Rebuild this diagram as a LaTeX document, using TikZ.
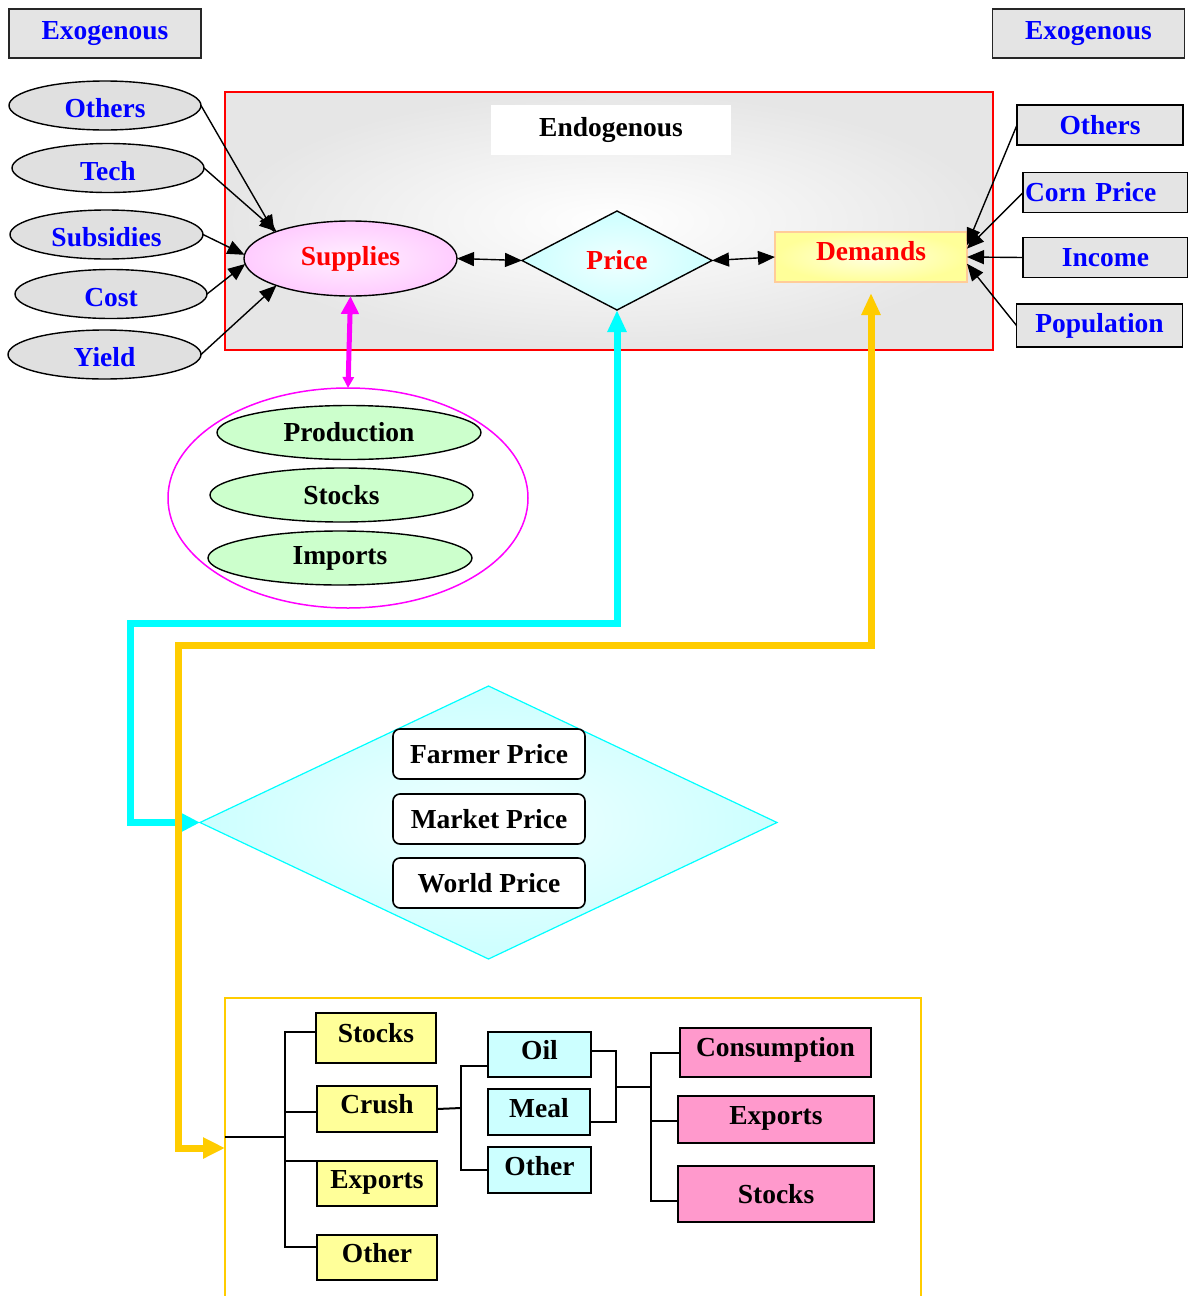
\documentclass[tikz,border=0pt]{standalone}
\usepackage{fontspec}
\setmainfont{Liberation Serif}
\usetikzlibrary{shapes.geometric,arrows.meta}
\definecolor{exogray}{HTML}{E4E4E4}
\definecolor{ellgray}{HTML}{E0E0E0}
\definecolor{endgray}{HTML}{E6E6E6}
\definecolor{suppink}{HTML}{FFCCFF}
\definecolor{suppinkin}{HTML}{FFF0FF}
\definecolor{lcyan}{HTML}{CCFFFF}
\definecolor{lcyanin}{HTML}{F0FFFF}
\definecolor{lyellow}{HTML}{FFFF99}
\definecolor{lyellowin}{HTML}{FFFFE0}
\definecolor{peach}{HTML}{FFCC99}
\definecolor{lgreen}{HTML}{CCFFCC}
\definecolor{lpink}{HTML}{FF99CC}
\definecolor{gold}{HTML}{FFCC00}
\definecolor{aqua}{HTML}{00FFFF}
\definecolor{magen}{HTML}{FF00FF}
\definecolor{tblue}{HTML}{0000FF}
\definecolor{tred}{HTML}{FF0000}
\begin{document}
\begin{tikzpicture}[x=1pt,y=-1pt,
 every node/.style={font=\fontsize{27.5}{30}\selectfont\bfseries, inner sep=0pt, outer sep=0pt},
 exobox/.style={rectangle, draw=black!85, line width=1.8pt, fill=exogray, text=tblue, minimum width=192pt, minimum height=49pt},
 lell/.style={ellipse, draw=black, line width=1.4pt, fill=ellgray, text=tblue, minimum width=192pt, minimum height=49pt, text height=24pt, text depth=0pt},
 rbox/.style={rectangle, draw=black, line width=1.6pt, fill=exogray, text=tblue, minimum width=166pt, minimum height=40pt},
 gell/.style={ellipse, draw=black, line width=1.4pt, fill=lgreen, minimum width=264pt, minimum height=54pt},
 pbox/.style={rectangle, rounded corners=7pt, draw=black, line width=1.6pt, fill=white, minimum width=192pt, minimum height=50pt},
 ybox/.style={rectangle, draw=black, line width=1.8pt, fill=lyellow, minimum width=120pt, minimum height=46pt, text height=19pt, text depth=10pt},
 cbox/.style={rectangle, draw=black, line width=1.8pt, fill=lcyan, minimum width=103pt, minimum height=45pt, text height=19pt, text depth=9pt},
 kbox/.style={rectangle, draw=black, line width=1.8pt, fill=lpink, minimum width=196pt, minimum height=48pt},
 arr/.style={-{Triangle[length=17pt,width=14pt]}, line width=1.4pt},
 dblarr/.style={{Triangle[length=17pt,width=14pt]}-{Triangle[length=17pt,width=14pt]}, line width=1.4pt},
 tree/.style={line width=2pt}
]
\useasboundingbox (0,0) rectangle (1188,1296);

% exogenous headers
\node[exobox] (exoL) at (105,33.5) {Exogenous};
\node[exobox] (exoR) at (1088.5,33.5) {Exogenous};

% endogenous block
\node[rectangle, draw=red, line width=2pt, inner color=white, outer color=endgray, minimum width=768pt, minimum height=258pt] (endo) at (609,221) {};
\node[rectangle, fill=white, minimum width=240pt, minimum height=50pt] (endolab) at (611,130) {Endogenous};
\node[ellipse, draw=black, line width=1.4pt, inner color=suppinkin, outer color=suppink, text=tred, minimum width=213pt, minimum height=75pt] (sup) at (350.5,258.5) {Supplies};
\node[diamond, draw=black, line width=1.4pt, inner color=lcyanin, outer color=lcyan, text=tred, minimum width=190pt, minimum height=99pt] (price) at (617,260.5) {Price};
\node[rectangle, draw=peach, line width=1.8pt, inner color=lyellowin, outer color=lyellow, text=tred, minimum width=192pt, minimum height=50pt, text height=19pt, text depth=12pt] (dem) at (871,257) {Demands};

% left exogenous ellipses
\node[lell] (othL) at (105,105.5) {Others};
\node[lell] (tech) at (108,168) {Tech};
\node[lell, minimum width=193pt] (subs) at (106.5,234.5) {Subsidies};
\node[lell] (cost) at (111,294) {Cost};
\node[lell, minimum width=193pt] (yield) at (104.5,354.5) {Yield};

% right exogenous boxes
\node[rbox] (othR) at (1100,125) {Others};
\node[rbox, text width=161pt, align=left, inner xsep=2pt, minimum width=165pt] (corn) at (1105.5,192.5) {Corn Price};
\node[rbox, minimum width=165pt] (inc) at (1105.5,257.5) {Income};
\node[rbox, minimum height=43pt] (pop) at (1099.5,325.5) {Population};

% arrows into supplies / demands
\draw[arr] (othL.east) -- (sup.161);
\draw[arr] (tech.east) -- (sup.160);
\draw[arr] (subs.east) -- (sup.178);
\draw[arr] (cost.east) -- (sup.183);
\draw[arr] (yield.east) -- (sup.200);
\draw[arr] (othR.west) -- (dem.7);
\draw[arr] (corn.west) -- (dem.5);
\draw[arr] (inc.west) -- (dem.0);
\draw[arr] (pop.west) -- (dem.356);
\draw[dblarr] (sup.east) -- (price.west);
\draw[dblarr] (price.east) -- (dem.west);

% supplies group
\node[ellipse, draw=magen, line width=1.5pt, minimum width=360pt, minimum height=220pt] (supgrp) at (348,498) {};
\node[gell] (prod) at (349,432.5) {Production};
\node[gell, minimum width=263pt] (stk) at (341.5,495) {Stocks};
\node[gell] (imp) at (340,558) {Imports};
\draw[magen, line width=5pt, {Triangle[length=18pt,width=17pt]}-{Triangle[length=11pt,width=11pt]}] (sup.south) -- (supgrp.north);

% price group
\node[diamond, draw=aqua, line width=1.2pt, inner color=lcyanin, outer color=lcyan, minimum width=577pt, minimum height=273pt] (bigp) at (488.5,822.5) {};
\node[pbox] (farm) at (489,754) {Farmer Price};
\node[pbox] (mkt) at (489,819) {Market Price};
\node[pbox] (wld) at (489,883) {World Price};

% demand tree frame
\node[rectangle, draw=gold, line width=1.5pt, fill=white, minimum width=696pt, minimum height=300pt] (frame) at (573,1148) {};

% long connectors
\coordinate (cbend) at (130,623);
\draw[aqua, line width=7pt, {Triangle[length=22pt,width=18pt]}-{Triangle[length=20pt,width=19pt]}] (price.south) |- (cbend) |- (bigp.west);
\coordinate (ybend) at (178,645);
\draw[gold, line width=7pt, shorten <=11pt, {Triangle[length=22pt,width=18pt]}-{Triangle[length=22pt,width=20pt]}] (dem.south) |- (ybend) |- (frame.west);

% tree boxes
\node[ybox, minimum height=50pt] (ts) at (376,1038) {Stocks};
\node[ybox] (tc) at (377,1109) {Crush};
\node[ybox, minimum height=45pt] (te) at (377,1183.5) {Exports};
\node[ybox, minimum height=45pt] (to) at (377,1257.5) {Other};
\node[cbox] (oil) at (539.5,1054.5) {Oil};
\node[cbox, minimum width=102pt, minimum height=46pt] (meal) at (539,1112) {Meal};
\node[cbox, minimum height=46pt] (coth) at (539.5,1170) {Other};
\node[kbox, minimum width=191pt, minimum height=49pt, text height=19pt, text depth=11pt] (cons) at (775.5,1052.5) {Consumption};
\node[kbox, minimum height=47pt, text height=19pt, text depth=9pt] (kexp) at (776,1119.5) {Exports};
\node[kbox, minimum height=56pt] (kstk) at (776,1194) {Stocks};

% tree connectors
\coordinate (t0) at (225,1137);
\coordinate (sp1) at (285,1137);
\draw[tree] (t0) -- (sp1);
\draw[tree] (ts.174) -| (sp1);
\draw[tree] (tc.183) -| (sp1);
\draw[tree] (te.north west) -| (sp1);
\draw[tree] (to.170) -| (sp1);
\coordinate (sp2) at (461,1108);
\draw[tree] (tc.east) -- (sp2);
\draw[tree] (oil.193) -| (sp2);
\draw[tree] (coth.west) -| (sp2);
\coordinate (sp3) at (616,1087);
\coordinate (sp4) at (651,1087);
\draw[tree] (oil.4) -| (sp3);
\draw[tree] (meal.349) -| (sp3);
\draw[tree] (sp3) -- (sp4);
\draw[tree] (cons.west) -| (sp4);
\draw[tree] (kexp.181) -| (sp4);
\draw[tree] (kstk.184) -| (sp4);
\end{tikzpicture}
\end{document}
